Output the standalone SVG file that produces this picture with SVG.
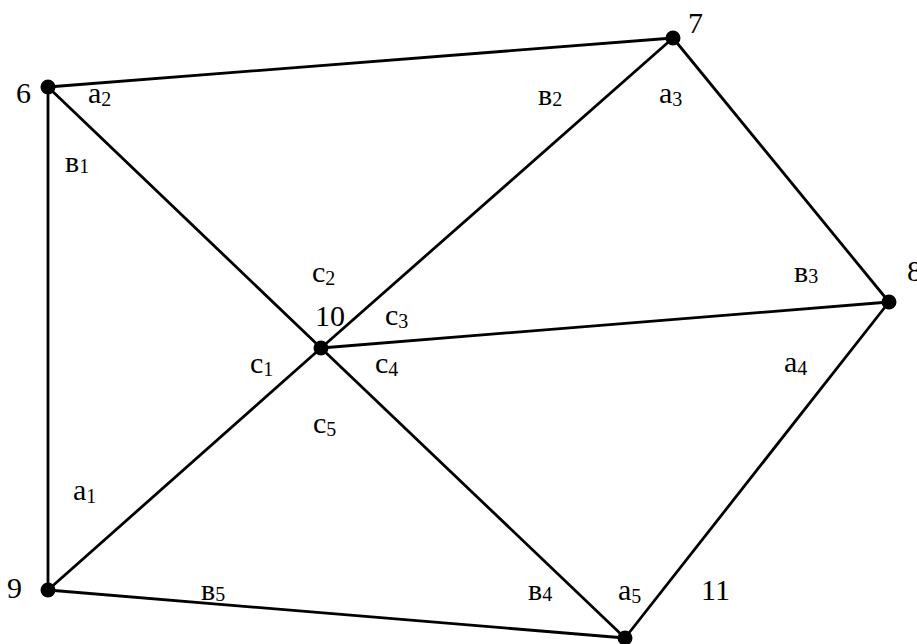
<svg xmlns="http://www.w3.org/2000/svg" width="917" height="644" viewBox="0 0 917 644">
<style>
.e{stroke:#000;stroke-width:2.8;fill:none;stroke-linecap:round}
text{font-family:"Liberation Serif","DejaVu Serif",serif;font-size:30px;fill:#000}
.s{font-size:20px}
.n{fill:#000}
</style>
<rect width="917" height="644" fill="#fff"/>
<g id="connectors">
<line class="e" x1="48" y1="87" x2="673" y2="38"/>
<line class="e" x1="48" y1="87" x2="48" y2="590"/>
<line class="e" x1="48" y1="87" x2="321" y2="348"/>
<line class="e" x1="321" y1="348" x2="625" y2="638"/>
<line class="e" x1="673" y1="38" x2="321" y2="348"/>
<line class="e" x1="321" y1="348" x2="48" y2="590"/>
<line class="e" x1="673" y1="38" x2="889" y2="302"/>
<line class="e" x1="889" y1="302" x2="321" y2="348"/>
<line class="e" x1="889" y1="302" x2="625" y2="638"/>
<line class="e" x1="48" y1="590" x2="625" y2="638"/>
</g>
<g id="node6"><circle class="n" cx="48" cy="87" r="7.5"/><text x="16" y="103">6</text></g>
<g id="node7"><circle class="n" cx="673" cy="38" r="7.5"/><text x="688" y="33">7</text></g>
<g id="node8"><circle class="n" cx="889" cy="302" r="7.5"/><text x="907" y="281">8</text></g>
<g id="node9"><circle class="n" cx="48" cy="590" r="7.5"/><text x="7" y="598">9</text></g>
<g id="node10"><circle class="n" cx="321" cy="348" r="7.5"/><text x="315" y="326">10</text></g>
<g id="node11"><circle class="n" cx="625" cy="638" r="7.5"/><text x="701" y="600">11</text></g>
<g id="labels">
<text x="88" y="103">a<tspan class="s" dy="3">2</tspan></text>
<text x="65" y="172">в<tspan class="s" dy="1">1</tspan></text>
<text x="538" y="105">в<tspan class="s" dy="1">2</tspan></text>
<text x="659" y="103">a<tspan class="s" dy="3">3</tspan></text>
<text x="794" y="282">в<tspan class="s" dy="1">3</tspan></text>
<text x="784" y="372">a<tspan class="s" dy="3">4</tspan></text>
<text x="312" y="282">c<tspan class="s" dy="3">2</tspan></text>
<text x="385" y="325">c<tspan class="s" dy="3">3</tspan></text>
<text x="250" y="373">c<tspan class="s" dy="3">1</tspan></text>
<text x="375" y="373">c<tspan class="s" dy="3">4</tspan></text>
<text x="313" y="433">c<tspan class="s" dy="3">5</tspan></text>
<text x="73" y="500">a<tspan class="s" dy="3">1</tspan></text>
<text x="201" y="600">в<tspan class="s" dy="1">5</tspan></text>
<text x="528" y="600">в<tspan class="s" dy="1">4</tspan></text>
<text x="618" y="600">a<tspan class="s" dy="3">5</tspan></text>
</g>
</svg>
